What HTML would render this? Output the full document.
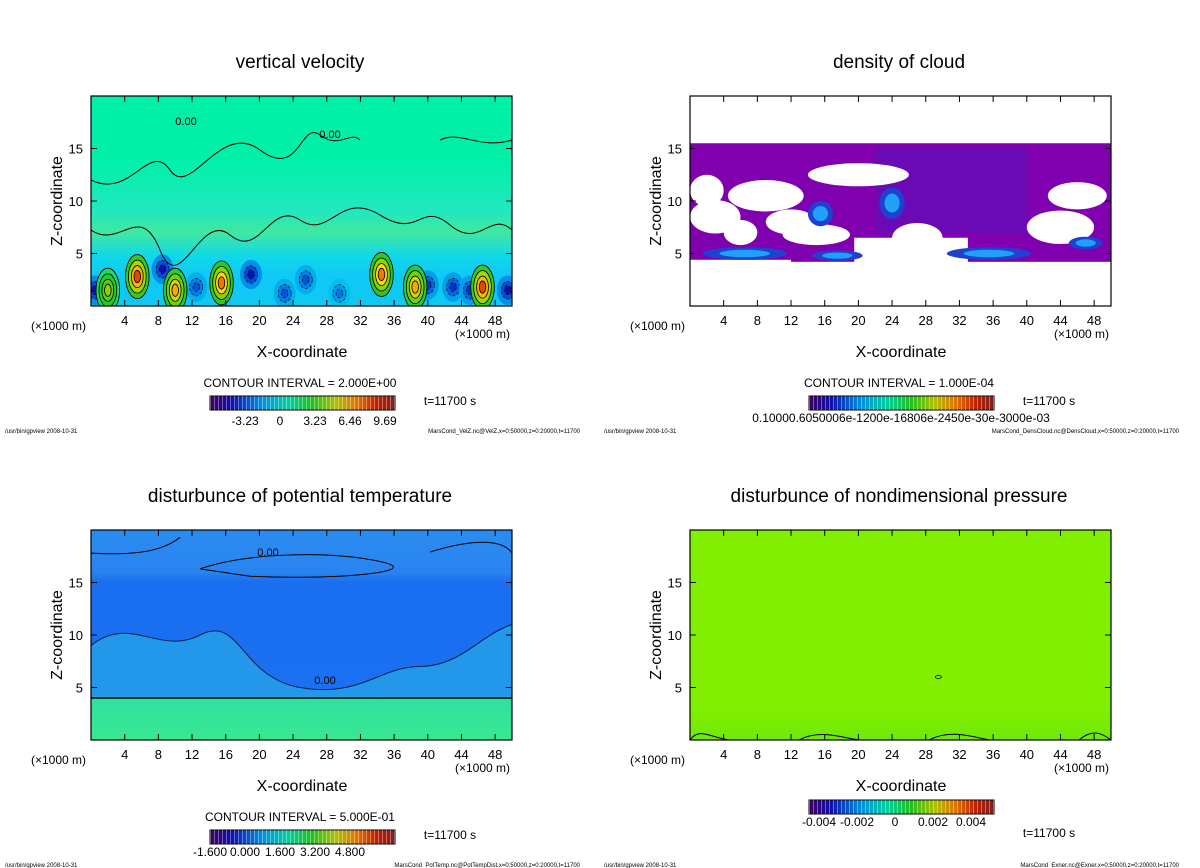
<!DOCTYPE html>
<html><head><meta charset="utf-8">
<style>
html,body{margin:0;padding:0;background:#fff;}
svg{display:block;font-family:"Liberation Sans","DejaVu Sans",sans-serif;}
</style></head>
<body>
<svg id="root" width="1200" height="868" viewBox="0 0 1200 868" xmlns="http://www.w3.org/2000/svg">
<defs>
<linearGradient id="rainbow" x1="0" x2="1" y1="0" y2="0">
<stop offset="0" stop-color="#400060"/><stop offset="0.12" stop-color="#1010b0"/><stop offset="0.28" stop-color="#0090e0"/>
<stop offset="0.42" stop-color="#00d0a0"/><stop offset="0.55" stop-color="#20c020"/><stop offset="0.68" stop-color="#b0c000"/>
<stop offset="0.8" stop-color="#e07000"/><stop offset="0.9" stop-color="#c02000"/><stop offset="1" stop-color="#802020"/>
</linearGradient>
<pattern id="stripes" width="4" height="10" patternUnits="userSpaceOnUse"><rect x="2" width="1" height="10" fill="#ffffff" opacity="0.35"/></pattern>
<linearGradient id="velLow" x1="0" x2="0" y1="0" y2="1">
<stop offset="0" stop-color="#00f0a8"/><stop offset="0.35" stop-color="#20e8c0"/><stop offset="0.5" stop-color="#40e8a0"/><stop offset="0.66" stop-color="#10d8e8"/><stop offset="0.8" stop-color="#10c8f8"/><stop offset="1" stop-color="#10c8f0"/>
</linearGradient>
<linearGradient id="ptGrad" x1="0" x2="0" y1="0" y2="1">
<stop offset="0" stop-color="#2a8cf0"/><stop offset="0.2" stop-color="#2a84f0"/><stop offset="0.25" stop-color="#1a6ef0"/><stop offset="0.79" stop-color="#1a70f0"/><stop offset="0.8" stop-color="#30e0a0"/><stop offset="1" stop-color="#38e890"/>
</linearGradient>
<linearGradient id="prGrad" x1="0" x2="0" y1="0" y2="1">
<stop offset="0" stop-color="#80f000"/><stop offset="0.85" stop-color="#80f000"/><stop offset="1" stop-color="#70e808"/>
</linearGradient>
<clipPath id="plotclip"><rect x="91" y="96" width="421" height="210"/></clipPath>
</defs>
</svg>
<script>
// ---- data ----
const xTicks = [4,8,12,16,20,24,28,32,36,40,44,48];
const zTicks = [5,10,15];
const velUpX = [2,5.5,10,15.5,34.5,38.5,46.5];
const velUpZ = [1.5,2.8,1.5,2.2,3.0,1.8,1.8];
const velUpV = [4,9,7,8,8,7,9];
const velDnX = [0.5,8.5,12.5,19,23,25.5,29.5,40,43,45,49.5];
const velDnZ = [1.5,3.5,1.8,3.0,1.2,2.5,1.2,2.0,1.8,1.5,1.5];
const velDnV = [-3,-3,-2,-3,-2,-2,-1.5,-2.5,-2.5,-2.5,-3];
const cloudHoleX = [3,9,20,15,27,46,44,12,2,6];
const cloudHoleZ = [8.5,10.5,12.5,6.8,6.5,10.5,7.5,8,11,7];
const cloudHoleW = [3,4.5,6,4,3,3.5,4,3,2,2];
const cloudHoleH = [1.6,1.5,1.1,1.0,1.4,1.3,1.6,1.2,1.5,1.2];
const cloudBlobX = [6.5,17.5,35.5,15.5,24,47];
const cloudBlobZ = [5.0,4.8,5.0,8.8,9.8,6.0];
const cloudBlobW = [5,3,5,1.5,1.5,2];
const cloudBlobH = [0.6,0.5,0.6,1.2,1.5,0.6];
const velBarLabels = ["-3.23","0","3.23","6.46","9.69"];
const cloudBarLabels = ["0.10000.6050006e-1200e-16806e-2450e-30e-3000e-03"];
const ptBarLabels = ["-1.600","0.000","1.600","3.200","4.800"];
const prBarLabels = ["-0.004","-0.002","0","0.002","0.004"];

const NS="http://www.w3.org/2000/svg";
const root=document.getElementById('root');
function el(tag,attrs,parent,txt){const e=document.createElementNS(NS,tag);for(const k in attrs)e.setAttribute(k,attrs[k]);if(txt!==undefined)e.textContent=txt;(parent||root).appendChild(e);return e;}
function colorFor(v){ // -5..10
  const st=[[-5,[64,0,96]],[-3,[16,16,176]],[-1.5,[0,120,230]],[-0.5,[0,200,240]],[0,[0,240,168]],[2,[40,200,40]],[4,[140,210,0]],[6,[250,220,0]],[8,[240,120,0]],[10,[200,30,0]]];
  for(let i=1;i<st.length;i++){if(v<=st[i][0]){const a=st[i-1],b=st[i];const t=(v-a[0])/(b[0]-a[0]);const c=a[1].map((q,j)=>Math.round(q+(b[1][j]-q)*Math.max(0,t)));return `rgb(${c})`;}}
  return 'rgb(200,30,0)';
}
function panel(ox,oy,title,name){
  const g=el('g',{transform:`translate(${ox},${oy})`});
  
  
  const X0=91,X1=512,Y0=96,Y1=306;
  const sx=v=>X0+(v/50)*(X1-X0);
  const sz=v=>Y1-(v/20)*(Y1-Y0);
  const t=el('text',{x:300,y:68,'font-size':19,'text-anchor':'middle',fill:'#000'},g,title);
  
  
  const plot=el('g',{'clip-path':'url(#plotclip)'},g);
  
  
  return {g,plot,sx,sz,X0,X1,Y0,Y1,finish:function(){
    const fr=el('rect',{x:X0,y:Y0,width:X1-X0,height:Y1-Y0,fill:'none',stroke:'#000','stroke-width':1.2},g);
    
    
    xTicks.forEach(v=>{
      el('line',{x1:sx(v),x2:sx(v),y1:Y1,y2:Y1-6,stroke:'#000'},g);
      el('line',{x1:sx(v),x2:sx(v),y1:Y0,y2:Y0+6,stroke:'#000'},g);
      const tl=el('text',{x:sx(v),y:Y1+19,'font-size':13,'text-anchor':'middle'},g,String(v));
      
      
    });
    zTicks.forEach(v=>{
      el('line',{x1:X0,x2:X0+6,y1:sz(v),y2:sz(v),stroke:'#000'},g);
      el('line',{x1:X1,x2:X1-6,y1:sz(v),y2:sz(v),stroke:'#000'},g);
      const tl=el('text',{x:X0-8,y:sz(v)+5,'font-size':13,'text-anchor':'end'},g,String(v));
      
      
    });
    const u1=el('text',{x:31,y:330,'font-size':12},g,'(×1000 m)');
    
    
    const u2=el('text',{x:455,y:338,'font-size':12},g,'(×1000 m)');
    
    
    const xl=el('text',{x:302,y:357,'font-size':16,'text-anchor':'middle'},g,'X-coordinate');
    
    
    const yl=el('text',{x:0,y:0,'font-size':16,'text-anchor':'middle',transform:'translate(62,201) rotate(-90)'},g,'Z-coordinate');
    
    
  }};
}
function colorbar(g,x,y,labels,ly,spread){
  const r=el('rect',{x:x,y:y,width:185,height:14,fill:'url(#rainbow)',stroke:'#000','stroke-width':1},g);
  
  
  el('rect',{x:x,y:y,width:185,height:14,fill:'url(#stripes)'},g);
  labels.forEach((s,i)=>{
    const tx=labels.length===1?x+92:x+spread[0]+i*spread[1];
    const tl=el('text',{x:tx,y:ly,'font-size':12,'text-anchor':'middle'},g,s);
    
    
  });
}
function footer(g,y,right){
  const a=el('text',{x:5,y:y,'font-size':6},g,'/usr/bin/gpview   2008-10-31');
  
  
  const b=el('text',{x:580,y:y,'font-size':6,'text-anchor':'end'},g,right);
  
  
}
function label(g,x,y,s,size,name){const t=el('text',{x:x,y:y,'font-size':size,'text-anchor':'middle'},g,s);return t;}

// ---- Panel 1: vertical velocity ----
let P=panel(0,0,'vertical velocity','vertical-velocity-panel');
el('rect',{x:P.X0,y:P.Y0,width:P.X1-P.X0,height:P.Y1-P.Y0,fill:'#00f0a8'},P.plot);
el('rect',{x:P.X0,y:P.sz(14),width:P.X1-P.X0,height:P.sz(0)-P.sz(14),fill:'url(#velLow)'},P.plot);
velDnX.forEach((x,i)=>{[1,0.6,0.3].forEach((f,k)=>{
  const e=el('ellipse',{cx:P.sx(x),cy:P.sz(velDnZ[i]),rx:(P.sx(1.3)-P.X0)*f,ry:(P.sz(0)-P.sz(1.4))*f,fill:colorFor(velDnV[i]*(0.4+0.3*k)),stroke:k===0?'none':'#000','stroke-width':0.6,'stroke-dasharray':'3,2'},P.plot);
  
  
});});
velUpX.forEach((x,i)=>{[1,0.75,0.5,0.28].forEach((f,k)=>{
  const e=el('ellipse',{cx:P.sx(x),cy:P.sz(velUpZ[i]),rx:(P.sx(1.4)-P.X0)*f,ry:(P.sz(0)-P.sz(2.1))*f,fill:colorFor(velUpV[i]*(0.25+0.25*k)),stroke:'#000','stroke-width':0.8},P.plot);
  
  
});});
el('path',{d:'M91,230 C120,250 140,200 160,250 S200,210 230,235 S270,200 300,220 S340,190 380,215 S420,200 450,225 S490,210 512,230',fill:'none',stroke:'#000','stroke-width':1},P.plot);
el('path',{d:'M91,180 C130,200 150,140 170,170 S220,120 260,150 S300,120 320,135 S350,130 360,140 M440,140 C460,130 480,150 512,140',fill:'none',stroke:'#000','stroke-width':1},P.plot);
label(P.plot,186,125,'0.00',11,'contour-label');
label(P.plot,330,138,'0.00',11,'contour-label');
P.finish();
label(P.g,300,387,'CONTOUR INTERVAL = 2.000E+00',12,'contour-interval');
colorbar(P.g,210,396,velBarLabels,425,[35,35]);
label(P.g,450,405,'t=11700 s',12,'time-label');
footer(P.g,433,'MarsCond_VelZ.nc@VelZ,x=0:50000,z=0:20000,t=11700');

// ---- Panel 2: density of cloud ----
P=panel(599,0,'density of cloud','cloud-density-panel');
el('rect',{x:P.X0,y:P.sz(15.5),width:P.X1-P.X0,height:P.sz(4.2)-P.sz(15.5),fill:'#8000b0'},P.plot);
el('rect',{x:P.sx(22),y:P.sz(15),width:P.sx(40)-P.sx(22),height:P.sz(7)-P.sz(15),fill:'#5a10b8',opacity:0.6},P.plot);
el('rect',{x:P.X0,y:P.sz(4.4),width:P.sx(12)-P.X0,height:P.sz(0)-P.sz(4.4),fill:'#fff'},P.plot);
el('rect',{x:P.sx(19.5),y:P.sz(6.5),width:P.sx(33)-P.sx(19.5),height:P.sz(0)-P.sz(6.5),fill:'#fff'},P.plot);
el('rect',{x:P.sx(12),y:P.sz(4.2),width:P.X1-P.sx(12),height:P.sz(0)-P.sz(4.2),fill:'#fff'},P.plot);
cloudHoleX.forEach((x,i)=>{
  const e=el('ellipse',{cx:P.sx(x),cy:P.sz(cloudHoleZ[i]),rx:P.sx(cloudHoleW[i])-P.X0,ry:P.sz(0)-P.sz(cloudHoleH[i]),fill:'#fff'},P.plot);
  
  
});
cloudBlobX.forEach((x,i)=>{[1,0.6].forEach((f,k)=>{
  const e=el('ellipse',{cx:P.sx(x),cy:P.sz(cloudBlobZ[i]),rx:(P.sx(cloudBlobW[i])-P.X0)*f,ry:(P.sz(0)-P.sz(cloudBlobH[i]))*f,fill:k?'#20a0f8':'#2040d0'},P.plot);
  
  
});});
P.finish();
label(P.g,300,387,'CONTOUR INTERVAL = 1.000E-04',12,'contour-interval');
colorbar(P.g,210,396,cloudBarLabels,422,[0,0]);
label(P.g,450,405,'t=11700 s',12,'time-label');
footer(P.g,433,'MarsCond_DensCloud.nc@DensCloud,x=0:50000,z=0:20000,t=11700');

// ---- Panel 3: potential temperature ----
P=panel(0,434,'disturbunce of potential temperature','potential-temperature-panel');
el('rect',{x:P.X0,y:P.Y0,width:P.X1-P.X0,height:P.Y1-P.Y0,fill:'url(#ptGrad)'},P.plot);
el('path',{d:`M91,${P.sz(4)} L91,${P.sz(9)} C130,${P.sz(12)} 160,${P.sz(8)} 200,${P.sz(10)} S240,${P.sz(6)} 300,${P.sz(5)} S380,${P.sz(7)} 420,${P.sz(7)} S480,${P.sz(10)} 512,${P.sz(11)} L512,${P.sz(4)} Z`,fill:'#28a8e8',opacity:0.7,stroke:'#000','stroke-width':1},P.plot);
el('line',{x1:91,x2:512,y1:P.sz(4),y2:P.sz(4),stroke:'#000','stroke-width':1.5},P.plot);
el('path',{d:`M91,${P.sz(17.8)} C130,${P.sz(17.6)} 160,${P.sz(17.8)} 180,${P.sz(19.3)} M200,${P.sz(16.3)} C250,${P.sz(17.9)} 330,${P.sz(18)} 380,${P.sz(17)} S330,${P.sz(15.2)} 250,${P.sz(15.6)} Z M430,${P.sz(17.9)} C460,${P.sz(18.8)} 500,${P.sz(19.5)} 512,${P.sz(17.8)}`,fill:'none',stroke:'#000','stroke-width':1},P.plot);
label(P.plot,268,P.sz(17.9)+4,'0.00',11,'contour-label');
label(P.plot,325,P.sz(5.7)+4,'0.00',11,'contour-label');
P.finish();
label(P.g,300,387,'CONTOUR INTERVAL = 5.000E-01',12,'contour-interval');
colorbar(P.g,210,396,ptBarLabels,422,[0,35]);
label(P.g,450,405,'t=11700 s',12,'time-label');
footer(P.g,433,'MarsCond_PotTemp.nc@PotTempDist,x=0:50000,z=0:20000,t=11700');

// ---- Panel 4: nondimensional pressure ----
P=panel(599,434,'disturbunce of nondimensional pressure','pressure-panel');
el('rect',{x:P.X0,y:P.Y0,width:P.X1-P.X0,height:P.Y1-P.Y0,fill:'url(#prGrad)'},P.plot);
el('path',{d:`M91,${P.Y1} C100,${P.sz(1.2)} 110,${P.sz(0.3)} 130,${P.Y1} M200,${P.Y1} C220,${P.sz(1)} 240,${P.sz(0.3)} 260,${P.Y1} M330,${P.Y1} C350,${P.sz(1)} 370,${P.sz(0.4)} 390,${P.Y1} M480,${P.Y1} C495,${P.sz(1.2)} 505,${P.sz(0.5)} 512,${P.Y1}`,fill:'none',stroke:'#000','stroke-width':1},P.plot);
el('ellipse',{cx:P.sx(29.5),cy:P.sz(6),rx:3,ry:1.5,fill:'none',stroke:'#000','stroke-width':0.8},P.plot);
P.finish();
colorbar(P.g,210,366,prBarLabels,392,[10,38]);
label(P.g,450,403,'t=11700 s',12,'time-label');
footer(P.g,433,'MarsCond_Exner.nc@Exner,x=0:50000,z=0:20000,t=11700');
</script>
</body></html>
